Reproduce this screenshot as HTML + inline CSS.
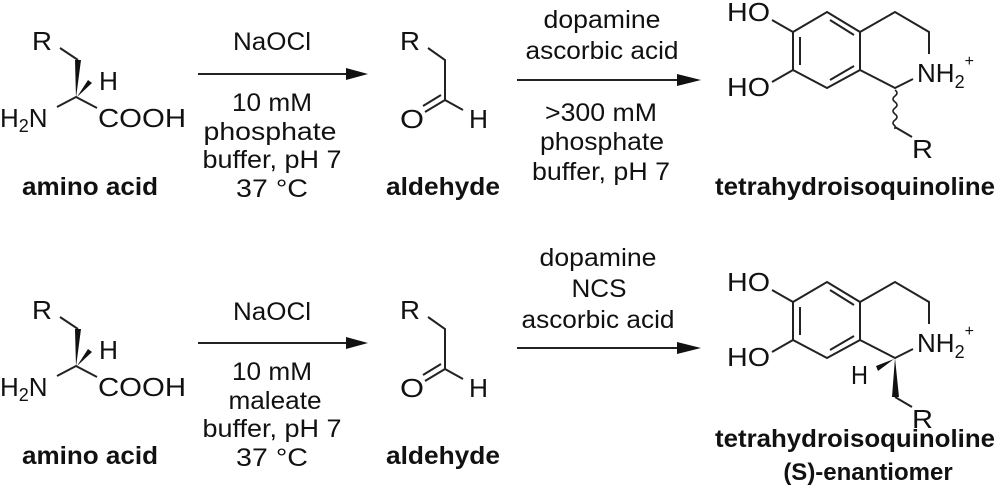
<!DOCTYPE html>
<html><head><meta charset="utf-8"><style>
html,body{margin:0;padding:0;background:#fff;}
svg{display:block;}
text{font-family:"Liberation Sans",Arial,sans-serif;fill:#111;}
.b{font-weight:bold;}
</style></head><body>
<svg width="1000" height="504" viewBox="0 0 1000 504" xmlns="http://www.w3.org/2000/svg">
<defs>
<g id="aa">
  <text x="32" y="50" font-size="26" textLength="20" lengthAdjust="spacingAndGlyphs">R</text>
  <polyline points="60,48 78,60" stroke="#222" stroke-width="2" fill="none"/>
  <polygon points="76,98 75,60 81,60" fill="#111"/>
  <polygon points="77,97 92,83 88,80" fill="#111"/>
  <text x="99" y="90" font-size="26" textLength="19" lengthAdjust="spacingAndGlyphs">H</text>
  <text x="0" y="127" font-size="26">H<tspan font-size="18" dy="5">2</tspan><tspan dy="-5">N</tspan></text>
  <polyline points="57,107 76,97 97,108" stroke="#222" stroke-width="2" fill="none"/>
  <text x="98" y="127" font-size="26" textLength="88" lengthAdjust="spacingAndGlyphs">COOH</text>
  <text x="90" y="195" font-size="25" text-anchor="middle" class="b" textLength="136" lengthAdjust="spacingAndGlyphs">amino acid</text>
</g>
<g id="ald">
  <text x="400" y="50" font-size="26" textLength="20" lengthAdjust="spacingAndGlyphs">R</text>
  <polyline points="428,48 445,60 445,100 463,110" stroke="#222" stroke-width="2" fill="none"/>
  <line x1="445" y1="100" x2="425" y2="112" stroke="#222" stroke-width="2"/>
  <line x1="441" y1="95" x2="423" y2="106" stroke="#222" stroke-width="2"/>
  <text x="400" y="128" font-size="26" textLength="24" lengthAdjust="spacingAndGlyphs">O</text>
  <text x="469" y="128" font-size="26" textLength="19" lengthAdjust="spacingAndGlyphs">H</text>
  <text x="443" y="195" font-size="25" text-anchor="middle" class="b" textLength="114" lengthAdjust="spacingAndGlyphs">aldehyde</text>
</g>
<g id="ring">
  <text x="727" y="21" font-size="26" textLength="43" lengthAdjust="spacingAndGlyphs">HO</text>
  <text x="727" y="96" font-size="26" textLength="43" lengthAdjust="spacingAndGlyphs">HO</text>
  <g stroke="#222" stroke-width="2" fill="none">
    <line x1="772" y1="20" x2="793" y2="32"/>
    <line x1="772" y1="82" x2="793" y2="70"/>
    <polygon points="827,12 860,32 860,70 827,88 793,70 793,32"/>
    <line x1="800" y1="37" x2="800" y2="65"/>
    <line x1="830" y1="20" x2="854" y2="35"/>
    <line x1="830" y1="80" x2="854" y2="66"/>
    <polyline points="860,32 895,12 929,32 929,54"/>
    <polyline points="860,70 895,88 913,79"/>
    <polyline points="895,127 912,137"/>
  </g>
  <text x="917" y="82" font-size="26">NH<tspan font-size="18" dy="6">2</tspan><tspan font-size="16" dy="-22">+</tspan></text>
  <text x="912" y="158" font-size="26" textLength="21" lengthAdjust="spacingAndGlyphs">R</text>
</g>
</defs>

<use href="#aa"/>
<use href="#aa" y="269"/>
<use href="#ald"/>
<use href="#ald" y="269"/>

<line x1="198" y1="74" x2="350" y2="74" stroke="#222" stroke-width="2"/>
<polygon points="368,74 346,68 346,80" fill="#111"/>
<g font-size="25" text-anchor="middle">
<text x="272" y="50" textLength="78" lengthAdjust="spacingAndGlyphs">NaOCl</text>
<text x="272" y="111" textLength="80" lengthAdjust="spacingAndGlyphs">10 mM</text>
<text x="270" y="140" textLength="133" lengthAdjust="spacingAndGlyphs">phosphate</text>
<text x="272" y="168" textLength="139" lengthAdjust="spacingAndGlyphs">buffer, pH 7</text>
<text x="272" y="197" textLength="72" lengthAdjust="spacingAndGlyphs">37 °C</text>
</g>
<line x1="198" y1="343" x2="350" y2="343" stroke="#222" stroke-width="2"/>
<polygon points="368,343 346,337 346,349" fill="#111"/>
<g font-size="25" text-anchor="middle">
<text x="272" y="320" textLength="78" lengthAdjust="spacingAndGlyphs">NaOCl</text>
<text x="272" y="380" textLength="80" lengthAdjust="spacingAndGlyphs">10 mM</text>
<text x="275" y="409" textLength="93" lengthAdjust="spacingAndGlyphs">maleate</text>
<text x="272" y="437" textLength="139" lengthAdjust="spacingAndGlyphs">buffer, pH 7</text>
<text x="272" y="466" textLength="72" lengthAdjust="spacingAndGlyphs">37 °C</text>
</g>

<line x1="517" y1="80" x2="682" y2="80" stroke="#222" stroke-width="2"/>
<polygon points="701,80 677,74 677,86" fill="#111"/>
<g font-size="25" text-anchor="middle">
<text x="602" y="28" textLength="117" lengthAdjust="spacingAndGlyphs">dopamine</text>
<text x="602" y="59" textLength="153" lengthAdjust="spacingAndGlyphs">ascorbic acid</text>
<text x="601" y="121" textLength="112" lengthAdjust="spacingAndGlyphs">&gt;300 mM</text>
<text x="602" y="150" textLength="124" lengthAdjust="spacingAndGlyphs">phosphate</text>
<text x="601" y="180" textLength="138" lengthAdjust="spacingAndGlyphs">buffer, pH 7</text>
</g>
<line x1="517" y1="348" x2="682" y2="348" stroke="#222" stroke-width="2"/>
<polygon points="701,348 677,342 677,354" fill="#111"/>
<g font-size="25" text-anchor="middle">
<text x="598" y="266" textLength="117" lengthAdjust="spacingAndGlyphs">dopamine</text>
<text x="599" y="297" textLength="55" lengthAdjust="spacingAndGlyphs">NCS</text>
<text x="598" y="328" textLength="153" lengthAdjust="spacingAndGlyphs">ascorbic acid</text>
</g>

<use href="#ring"/>
<path d="M895,90 q4,3 0,6 q-4,3 0,6 q4,3 0,6 q-4,3 0,6 q4,3 0,6 q-4,3 0,6 l0,3" stroke="#222" stroke-width="1.6" fill="none"/>
<text x="855" y="195" font-size="25" text-anchor="middle" class="b" textLength="280" lengthAdjust="spacingAndGlyphs">tetrahydroisoquinoline</text>

<use href="#ring" y="270"/>
<polygon points="895,358 892,397 899,397" fill="#111"/>
<polygon points="894,359 876,366 878,371" fill="#111"/>
<text x="851" y="384" font-size="26" textLength="17" lengthAdjust="spacingAndGlyphs">H</text>
<text x="855" y="447" font-size="25" text-anchor="middle" class="b" textLength="280" lengthAdjust="spacingAndGlyphs">tetrahydroisoquinoline</text>
<text x="868" y="480" font-size="24" text-anchor="middle" class="b">(S)-enantiomer</text>
</svg>
</body></html>
